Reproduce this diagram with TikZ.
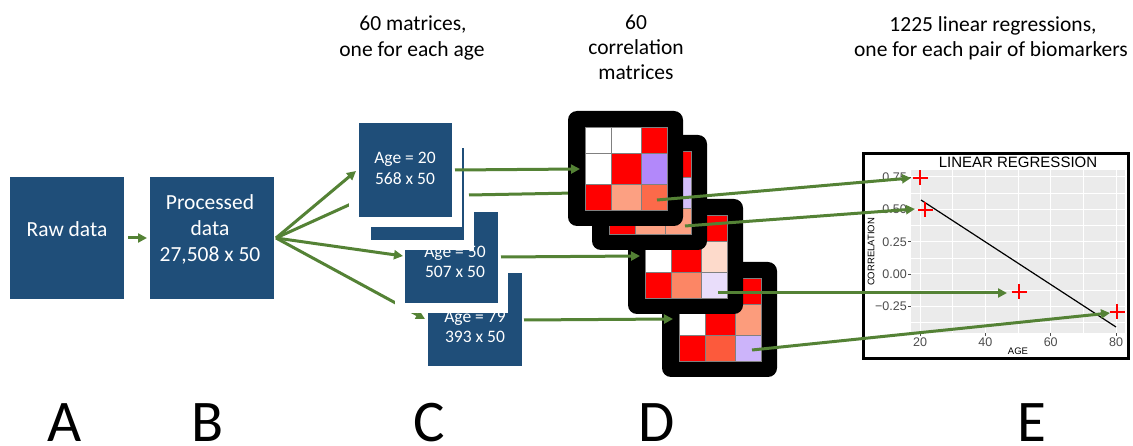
\documentclass[tikz,border=0pt]{standalone}
\usepackage{fontspec}
\setmainfont{Carlito}
\newfontfamily\plotfont{Liberation Sans}
\usetikzlibrary{arrows.meta}
\definecolor{boxblue}{HTML}{1F4E79}
\definecolor{agreen}{HTML}{548235}
\definecolor{panelgray}{HTML}{EBEBEB}
\definecolor{tickgray}{HTML}{4D4D4D}
\definecolor{cpurple}{RGB}{178,136,250}
\definecolor{clav}{RGB}{212,190,250}
\definecolor{cpale}{RGB}{233,221,250}
\definecolor{clavd}{RGB}{204,180,250}
\definecolor{csalmon}{RGB}{252,160,130}
\definecolor{ctomato}{RGB}{252,106,74}
\definecolor{cpeach}{RGB}{253,218,203}
\definecolor{ccoral}{RGB}{252,134,101}
\definecolor{credd}{RGB}{252,90,60}
\definecolor{csald}{RGB}{252,156,124}
\newcommand{\corrmat}[9]{%
  \fill[black, rounded corners=9pt] (0,0) rectangle (115,115);
  \fill[#1] (17,16) rectangle (43,42);
  \fill[#2] (43,16) rectangle (73,42);
  \fill[#3] (73,16) rectangle (99,42);
  \fill[#4] (17,42) rectangle (43,73);
  \fill[#5] (43,42) rectangle (73,73);
  \fill[#6] (73,42) rectangle (99,73);
  \fill[#7] (17,73) rectangle (43,99);
  \fill[#8] (43,73) rectangle (73,99);
  \fill[#9] (73,73) rectangle (99,99);
  \draw[gray, line width=0.8pt] (17,16) rectangle (99,99)
    (43,16) -- (43,99) (73,16) -- (73,99) (17,42) -- (99,42) (17,73) -- (99,73);
}
\tikzset{
  bluebox/.style={fill=boxblue, draw=white, line width=10pt, inner sep=0pt, outer sep=0pt},
  boxtxt/.style={text=white, anchor=base, inner sep=0pt},
  bigtxt/.style={font=\fontsize{21.5}{25.6}\selectfont},
  agetxt/.style={font=\fontsize{17.5}{21}\selectfont},
  hdr/.style={font=\fontsize{21.5}{26}\selectfont, anchor=base, inner sep=0pt},
  letter/.style={font=\fontsize{59}{70}\selectfont, anchor=base, inner sep=0pt},
  garrow/.style={draw=agreen, line width=3pt, -{Triangle[length=9pt,width=9pt]}},
  gline/.style={draw=agreen, line width=3pt},
  ticklab/.style={font=\plotfont\fontsize{12.5}{14}\selectfont, text=tickgray, inner sep=0pt},
  axlab/.style={font=\plotfont\fontsize{9.5}{11}\selectfont, inner sep=0pt},
  plusm/.pic={\draw[red, line width=2.5pt] (-7.5,0) -- (7.5,0) (0,-7.5) -- (0,7.5);}
}
\begin{document}
\begin{tikzpicture}[x=1pt, y=-1pt]
\useasboundingbox (0,0) rectangle (1133,446);
\fill[white] (0,0) rectangle (1133,446);

% headers
\node[hdr] (h1a) at (413,31) {60 matrices,};
\node[hdr] (h1b) at (412,57) {one for each age};
\node[hdr] (h2a) at (636,30) {60};
\node[hdr] (h2b) at (636,55) {correlation};
\node[hdr] (h2c) at (636,80) {matrices};
\node[hdr] (h3a) at (993,32) {1225 linear regressions,};
\node[hdr] (h3b) at (991,57) {one for each pair of biomarkers};

% bottom letters
\node[letter] (LA) at (65,441) {A};
\node[letter] (LB) at (208,441) {B};
\node[letter] (LC) at (429,441) {C};
\node[letter] (LD) at (657,441) {D};
\node[letter] (LE) at (1032,441) {E};

% A and B boxes
\node[bluebox, minimum width=124pt, minimum height=132pt] (raw) at (67,238.5) {};
\node[boxtxt, bigtxt] (rawT) at (67,237) {Raw data};
\node[bluebox, minimum width=134pt, minimum height=132pt] (proc) at (211.5,238.5) {};
\node[boxtxt, bigtxt] (procT1) at (210,210) {Processed};
\node[boxtxt, bigtxt] (procT2) at (210,236) {data};
\node[boxtxt, bigtxt] (procT3) at (210,262) {27,508 x 50};
\coordinate (rawo) at (128,238);
\coordinate (proci) at (147,238);
\draw[garrow] (rawo) -- (proci);

% fan
\coordinate (fan) at (276,238);
\coordinate (f1) at (356,171);
\coordinate (f2) at (362,199);
\coordinate (f3) at (403,256);
\coordinate (f4) at (425,319);

% C boxes
\node[bluebox, minimum width=104pt, minimum height=103pt] (a79) at (475,319.5) {};
\draw[garrow] (fan) -- (f4);
\draw[gline] (fan) -- (f2);
\node[bluebox, minimum width=103pt, minimum height=101pt] (a50) at (451.5,257.5) {};
\node[bluebox, minimum width=103pt, minimum height=102pt] (a20b) at (417.5,194) {};
\node[bluebox, minimum width=103pt, minimum height=104pt] (a20) at (405.5,170) {};
\draw[garrow] (fan) -- (f1);
\draw[garrow] (fan) -- (f3);
\node[boxtxt, agetxt] (a20T1) at (405,164) {Age = 20};
\node[boxtxt, agetxt] (a20T2) at (405,185) {568 x 50};
\node[boxtxt, agetxt] (a50T1) at (455,258) {Age = 50};
\node[boxtxt, agetxt] (a50T2) at (455,278) {507 x 50};
\node[boxtxt, agetxt] (a79T1) at (475,323) {Age = 79};
\node[boxtxt, agetxt] (a79T2) at (475,343) {393 x 50};

% line behind matrix 1
\coordinate (a20bo) at (469,195);
\coordinate (m2i) at (575,193);
\draw[gline] (a20bo) -- (m2i);

% D matrices
\begin{scope}[shift={(662,262)}]
  \corrmat{white}{white}{red}{white}{red}{csald}{red}{credd}{clavd}
\end{scope}
\begin{scope}[shift={(628,199)}]
  \corrmat{white}{white}{red}{white}{red}{cpeach}{red}{ccoral}{cpale}
\end{scope}
\begin{scope}[shift={(592,135)}]
  \corrmat{white}{white}{red}{white}{red}{clav}{red}{csalmon}{csalmon}
\end{scope}
\begin{scope}[shift={(568,111)}]
  \corrmat{white}{white}{red}{white}{red}{cpurple}{red}{csalmon}{ctomato}
\end{scope}

% arrows into matrices
\coordinate (a20o) at (455,170);
\coordinate (m1i) at (580,169);
\coordinate (a50o) at (501,257);
\coordinate (m3i) at (640,256);
\coordinate (a79o) at (524,320);
\coordinate (m4i) at (673,319);
\draw[garrow] (a20o) -- (m1i);
\draw[garrow] (a50o) -- (m3i);
\draw[garrow] (a79o) -- (m4i);

% E plot
\fill[panelgray] (911,170) rectangle (1125,333);
\foreach \yy in {193.2,225.5,257.8,290.2,322.5}
  \draw[white, line width=0.5pt] (911,\yy) -- (1125,\yy);
\foreach \xx in {952.7,1018,1083.3}
  \draw[white, line width=0.5pt] (\xx,170) -- (\xx,333);
\foreach \yy in {177,209.3,241.7,274,306.3}
  \draw[white, line width=1pt] (911,\yy) -- (1125,\yy);
\foreach \xx in {920,985.3,1050.7,1116}
  \draw[white, line width=1pt] (\xx,170) -- (\xx,333);
\foreach \yy in {177,209.3,241.7,274,306.3}
  \draw[tickgray, line width=0.6pt] (908,\yy) -- (911,\yy);
\foreach \xx in {920,985.3,1050.7,1116}
  \draw[tickgray, line width=0.6pt] (\xx,333) -- (\xx,336);
\node[ticklab, anchor=east] (y1) at (907,177) {0.75};
\node[ticklab, anchor=east] (y2) at (907,209.3) {0.50};
\node[ticklab, anchor=east] (y3) at (907,241.7) {0.25};
\node[ticklab, anchor=east] (y4) at (907,274) {0.00};
\node[ticklab, anchor=east] (y5) at (907,306.3) {−0.25};
\node[ticklab] (x1) at (920,342.5) {20};
\node[ticklab] (x2) at (985.3,342.5) {40};
\node[ticklab] (x3) at (1050.7,342.5) {60};
\node[ticklab] (x4) at (1116,342.5) {80};
\node[axlab, rotate=90] (ylab) at (871,252) {CORRELATION};
\node[axlab] (xlab) at (1018,351.5) {AGE};
\node[font=\plotfont\fontsize{15}{17}\selectfont, inner sep=0pt] (title) at (1018,162) {LINEAR REGRESSION};
\coordinate (r1) at (921,200);
\coordinate (r2) at (1116,327);
\draw[black, line width=1.2pt] (r1) -- (r2);
\pic at (920,178) {plusm};
\pic at (925,210) {plusm};
\pic at (1019,292) {plusm};
\pic at (1117,312) {plusm};
\draw[black, line width=3pt] (863,154) rectangle (1128,359);

% arrows from matrices to plot
\coordinate (m1o) at (657,200);
\coordinate (t1) at (911,178);
\coordinate (m2o) at (685,226);
\coordinate (t2) at (915,209);
\coordinate (m3o) at (718,293);
\coordinate (t3) at (1007,293);
\coordinate (m4o) at (752,350);
\coordinate (t4) at (1110,313);
\draw[garrow] (m1o) -- (t1);
\draw[garrow] (m2o) -- (t2);
\draw[garrow] (m3o) -- (t3);
\draw[garrow] (m4o) -- (t4);
\end{tikzpicture}
\end{document}
